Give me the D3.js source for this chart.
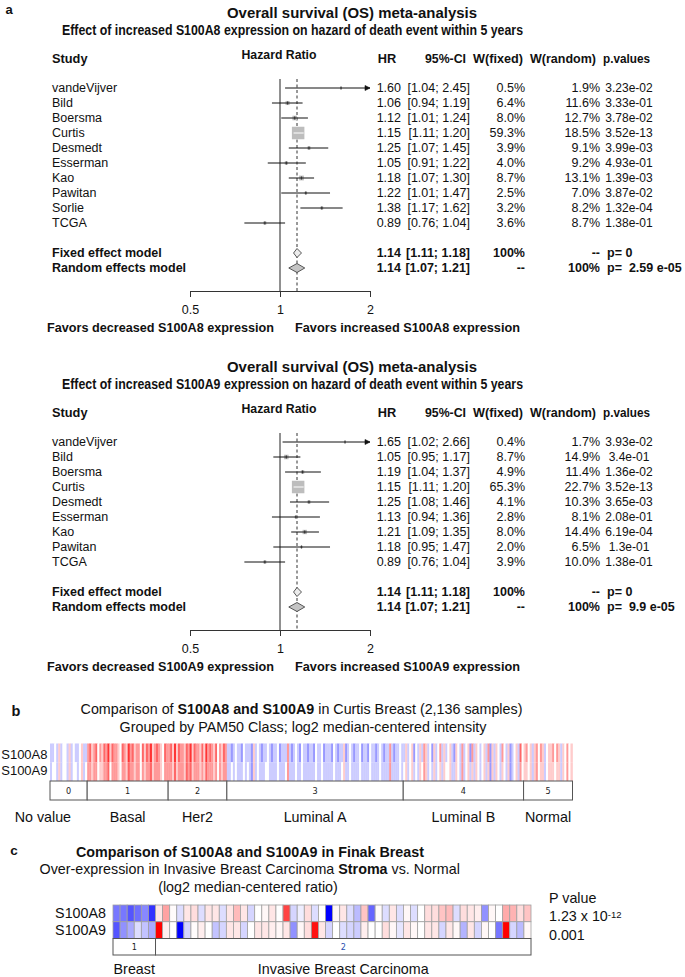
<!DOCTYPE html>
<html><head><meta charset="utf-8">
<script src="https://cdn.jsdelivr.net/npm/d3@7"></script>
<style>
body{margin:0;background:#fff;}
svg{display:block;font-family:"Liberation Sans",Arial,Helvetica,sans-serif;}
text{white-space:pre;}
</style></head><body>
<svg id="c" width="685" height="977"></svg>
<script>
// ---------------- DATA ----------------
// Panel a (top): S100A8
const studiesA8 = ["vandeVijver","Bild","Boersma","Curtis","Desmedt","Esserman","Kao","Pawitan","Sorlie","TCGA"];
const hrA8 = [1.60,1.06,1.12,1.15,1.25,1.05,1.18,1.22,1.38,0.89];
const loA8 = [1.04,0.94,1.01,1.11,1.07,0.91,1.07,1.01,1.17,0.76];
const hiA8 = [2.45,1.19,1.24,1.20,1.45,1.22,1.30,1.47,1.62,1.04];
const wFixedA8 = ["0.5%","6.4%","8.0%","59.3%","3.9%","4.0%","8.7%","2.5%","3.2%","3.6%"];
const wRandomA8 = ["1.9%","11.6%","12.7%","18.5%","9.1%","9.2%","13.1%","7.0%","8.2%","8.7%"];
const pA8 = ["3.23e-02","3.33e-01","3.78e-02","3.52e-13","3.99e-03","4.93e-01","1.39e-03","3.87e-02","1.32e-04","1.38e-01"];
const fixedA8 = [1.14,1.11,1.18];
const randomA8 = [1.14,1.07,1.21];
const summaryTextA8 = {fixed:["100%","--","p= 0"], random:["--","100%","p=  2.59 e-05"]};

// Panel a (bottom): S100A9
const studiesA9 = ["vandeVijver","Bild","Boersma","Curtis","Desmedt","Esserman","Kao","Pawitan","TCGA"];
const hrA9 = [1.65,1.05,1.19,1.15,1.25,1.13,1.21,1.18,0.89];
const loA9 = [1.02,0.95,1.04,1.11,1.08,0.94,1.09,0.95,0.76];
const hiA9 = [2.66,1.17,1.37,1.20,1.46,1.36,1.35,1.47,1.04];
const wFixedA9 = ["0.4%","8.7%","4.9%","65.3%","4.1%","2.8%","8.0%","2.0%","3.9%"];
const wRandomA9 = ["1.7%","14.9%","11.4%","22.7%","10.3%","8.1%","14.4%","6.5%","10.0%"];
const pA9 = ["3.93e-02","3.4e-01","1.36e-02","3.52e-13","3.65e-03","2.08e-01","6.19e-04","1.3e-01","1.38e-01"];
const fixedA9 = [1.14,1.11,1.18];
const randomA9 = [1.14,1.07,1.21];
const summaryTextA9 = {fixed:["100%","--","p= 0"], random:["--","100%","p=  9.9 e-05"]};

const hrTicks = [0.5,1,2];

// Panel b: Curtis, PAM50 groups (stripe levels 0..8, 4 = median)
const pamGroups = ["0","1","2","3","4","5"];
const pamNames = ["No value","Basal","Her2","Luminal A","Luminal B","Normal"];
const pamCounts = [152,331,240,721,492,200];
const curtisA8 = [
  "334353443534334533",
  "6756746576857665476586756647576856765476",
  "675857665768576657586765746576",
  "3323433243332534323343233423336323432433233243342333243233523432334233243323432336323343",
  "353452435365342534635345325436345263543453625354364352345374",
  "564535646534556465354645"
];
const curtisA9 = [
  "344353443534434534",
  "6656645566746665466576656646566756665466",
  "665756665767566656576665646566",
  "3343433343432534333443333433346333433433333343343333343334533433334333343333433336333343",
  "453453435465343534535445335436345353543453525354354352345364",
  "554535645534555455354645"
];

// Panel c: Finak (log2 median-centered ratio)
const finakGroups = ["1","2"];
const finakNames = ["Breast","Invasive Breast Carcinoma"];
const finakCounts = [6,53];
const finakA8 = [-1.6,-1.6,-2.0,-1.7,-1.4,-2.4,
  0.3,1.1,0.05,-0.4,0.3,0.4,-0.4,0.3,0.3,-0.4,0.3,0.8,0.3,-0.5,0,0.1,0.3,0,2.2,-0.5,-0.2,0.4,-0.4,0,-3,0.1,
  0.3,-0.4,-0.8,0.7,-1.8,0.05,-0.4,0.3,-0.4,0.1,-0.4,0,0.4,0.4,0.7,0.8,-0.4,0.4,0.3,0.2,-1.3,0.1,0,1.0,0.9,0.4,0.7];
const finakA9 = [-2.0,-1.3,-1.0,-0.4,-0.7,-1.0,
  3,0.2,0,-3,-0.5,0.05,0.2,0,-0.7,-0.5,0.3,0.3,-0.5,0,0.3,0.3,0.2,0.1,0.3,-1.3,0.1,0.4,2.8,0.3,-0.5,0,
  -0.4,-0.5,-0.6,0.2,0,0,0.4,0.1,-0.3,0.3,0.1,0,0.3,0.3,-0.5,0.3,0.1,-0.9,0.3,-0.5,0.1,0,-1.6,3,-0.5,-0.8,0.1];
const finakP = ["1.23 x 10", "-12", "0.001"];

// ---------------- DRAWING ----------------
const svg = d3.select('#c');
const FONT = '"Liberation Sans", Arial, Helvetica, sans-serif';

function txt(g, x, y, s, o = {}) {
  const t = g.append('text').attr('x', x).attr('y', y).attr('dy', '0.35em')
    .attr('font-size', o.size || 12.5).attr('font-weight', o.bold ? 'bold' : 'normal')
    .attr('text-anchor', o.anchor || 'start').attr('fill', o.fill || '#111');
  if (s !== null) t.text(s);
  if (o.width) t.attr('textLength', o.width).attr('lengthAdjust', 'spacingAndGlyphs');
  return t;
}

const f2 = d3.format('.2f');

function forest(d, y0) {
  const g = svg.append('g');
  const x = d3.scaleLog().base(2).domain([0.5, 2]).range([190, 370]);
  const n = d.studies.length;
  const ry = i => y0 + 15 * i;
  const yF = ry(n - 1) + 30, yR = yF + 15, yAx = yR + 23;

  txt(g, 352, y0 - 75, 'Overall survival (OS) meta-analysis', {bold: 1, size: 15, anchor: 'middle', width: 250});
  txt(g, 292.5, y0 - 58, `Effect of increased ${d.gene} expression on hazard of death event within 5 years`, {bold: 1, size: 15, anchor: 'middle', width: 461});

  const hy = y0 - 29;
  const hs = 12.8;
  txt(g, 52, hy, 'Study', {bold: 1, size: hs});
  txt(g, 279, hy - 4, 'Hazard Ratio', {bold: 1, size: hs, anchor: 'middle', width: 75});
  txt(g, 387, hy, 'HR', {bold: 1, size: hs, anchor: 'middle'});
  txt(g, 466, hy, '95%-CI', {bold: 1, size: hs, anchor: 'end', width: 41});
  txt(g, 523, hy, 'W(fixed)', {bold: 1, size: hs, anchor: 'end', width: 50});
  txt(g, 596, hy, 'W(random)', {bold: 1, size: hs, anchor: 'end', width: 66});
  txt(g, 603, hy, 'p.values', {bold: 1, size: hs, width: 47});

  // reference lines
  g.append('line').attr('x1', x(1)).attr('x2', x(1)).attr('y1', y0 - 9).attr('y2', yAx)
    .attr('stroke', '#222').attr('stroke-width', 1);
  g.append('line').attr('x1', x(d.fixed[0])).attr('x2', x(d.fixed[0])).attr('y1', y0 - 9).attr('y2', yAx)
    .attr('stroke', '#333').attr('stroke-width', 1).attr('stroke-dasharray', '3,2.5');

  const wmax = d3.max(d.wf, w => parseFloat(w));
  d.studies.forEach((s, i) => {
    const yy = ry(i);
    const cx = x(d.hr[i]);
    const side = 12.5 * Math.sqrt(parseFloat(d.wf[i]) / wmax);
    const x0 = x(Math.max(d.lo[i], 0.5)), x1 = x(Math.min(d.hi[i], 2));
    g.append('rect').attr('x', cx - side / 2).attr('y', yy - side / 2).attr('width', side).attr('height', side)
      .attr('fill', '#bdbdbd');
    const inside = x(d.lo[i]) >= cx - side / 2 && x(d.hi[i]) <= cx + side / 2;
    g.append('line').attr('x1', x0).attr('x2', x1).attr('y1', yy).attr('y2', yy)
      .attr('stroke', inside ? '#fff' : '#111').attr('stroke-width', 1);
    if (!inside) {
      g.append('line').attr('x1', cx).attr('x2', cx).attr('y1', yy - 1.5).attr('y2', yy + 1.5)
        .attr('stroke', '#333').attr('stroke-width', 1.2);
    }
    if (d.hi[i] > 2) {
      g.append('path').attr('d', `M${x1 - 5},${yy - 2.5}L${x1},${yy}L${x1 - 5},${yy + 2.5}Z`)
        .attr('fill', '#111').attr('stroke', '#111').attr('stroke-width', 0.6);
    }
    txt(g, 52, yy, s);
    txt(g, 401, yy, f2(d.hr[i]), {anchor: 'end'});
    txt(g, 470, yy, `[${f2(d.lo[i])}; ${f2(d.hi[i])}]`, {anchor: 'end'});
    txt(g, 525, yy, d.wf[i], {anchor: 'end'});
    txt(g, 600, yy, d.wr[i], {anchor: 'end'});
    txt(g, 629, yy, d.p[i], {anchor: 'middle', size: 12});
  });

  // summary diamonds
  [[yF, d.fixed, '#ececec', 'Fixed effect model', d.sumText.fixed],
   [yR, d.random, '#c4c4c4', 'Random effects model', d.sumText.random]].forEach(([yy, v, fill, label, st]) => {
    g.append('path').attr('d', `M${x(v[1])},${yy}L${x(v[0])},${yy - 4.5}L${x(v[2])},${yy}L${x(v[0])},${yy + 4.5}Z`)
      .attr('fill', fill).attr('stroke', '#444').attr('stroke-width', 0.9);
    txt(g, 52, yy, label, {bold: 1, size: 12.5});
    txt(g, 401, yy, f2(v[0]), {anchor: 'end', bold: 1});
    txt(g, 470, yy, `[${f2(v[1])}; ${f2(v[2])}]`, {anchor: 'end', bold: 1});
    txt(g, 525, yy, st[0], {anchor: 'end', bold: 1});
    txt(g, 600, yy, st[1], {anchor: 'end', bold: 1});
    txt(g, 607, yy, st[2], {bold: 1});
  });

  // axis
  const ax = g.append('g').attr('transform', `translate(0,${yAx})`)
    .call(d3.axisBottom(x).tickValues(hrTicks).tickFormat(v => String(v)).tickSize(6).tickPadding(8));
  ax.attr('font-family', FONT);
  ax.selectAll('text').attr('font-size', 12.5).attr('fill', '#111');
  ax.selectAll('line,path').attr('stroke', '#333');

  txt(g, 274, yAx + 37, `Favors decreased ${d.gene} expression`, {bold: 1, size: 12.8, anchor: 'end', width: 227});
  txt(g, 295, yAx + 37, `Favors increased ${d.gene} expression`, {bold: 1, size: 12.8, width: 225});
}

txt(svg, 9, 9, 'a', {bold: 1, size: 13, anchor: 'middle'});
forest({gene: 'S100A8', studies: studiesA8, hr: hrA8, lo: loA8, hi: hiA8, wf: wFixedA8, wr: wRandomA8, p: pA8,
  fixed: fixedA8, random: randomA8, sumText: summaryTextA8}, 88);
forest({gene: 'S100A9', studies: studiesA9, hr: hrA9, lo: loA9, hi: hiA9, wf: wFixedA9, wr: wRandomA9, p: pA9,
  fixed: fixedA9, random: randomA9, sumText: summaryTextA9}, 442);

// ---------- Panel b ----------
const cellColor = d3.scaleLinear().domain([-3, 0, 3]).range(['#0000ff', '#ffffff', '#ff0000']).clamp(true);
const level = ch => (+ch - 4) * 0.6;
{
  const g = svg.append('g');
  txt(g, 16, 711, 'b', {bold: 1, size: 14.5, anchor: 'middle'});
  const t1 = txt(g, 301.5, 708.5, null, {size: 14.3, anchor: 'middle'});
  t1.append('tspan').text('Comparison of ');
  t1.append('tspan').attr('font-weight', 'bold').text('S100A8 and S100A9');
  t1.append('tspan').text(' in Curtis Breast (2,136 samples)');
  txt(g, 303, 727, 'Grouped by PAM50 Class; log2 median-centered intensity', {size: 14.3, anchor: 'middle'});

  const total = d3.sum(pamCounts);
  const x = d3.scaleLinear().domain([0, total]).range([50, 572.5]);
  const y = d3.scaleBand().domain(['S100A8', 'S100A9']).range([743.5, 781]);
  const starts = d3.cumsum([0].concat(pamCounts)).slice(0, pamCounts.length);
  [['S100A8', curtisA8], ['S100A9', curtisA9]].forEach(([gene, rows]) => {
    rows.forEach((str, gi) => {
      const m = str.length, s0 = starts[gi], c = pamCounts[gi];
      for (let j = 0; j < m; j++) {
        const a = x(s0 + c * j / m), b = x(s0 + c * (j + 1) / m);
        g.append('rect').attr('x', a).attr('y', y(gene)).attr('width', b - a + 0.35).attr('height', y.bandwidth())
          .attr('fill', cellColor(level(str[j])));
      }
    });
    txt(g, 47.5, y(gene) + y.bandwidth() / 2 + (gene === 'S100A8' ? 2 : -1.5), gene, {size: 13, anchor: 'end'});
  });
  // group boxes
  pamGroups.forEach((gr, i) => {
    const a = x(starts[i]), b = x(starts[i] + pamCounts[i]);
    g.append('rect').attr('x', a).attr('y', 781).attr('width', b - a).attr('height', 19)
      .attr('fill', '#fff').attr('stroke', '#555').attr('stroke-width', 1);
    txt(g, (a + b) / 2, 790.5, gr, {size: 9, anchor: 'middle', fill: '#222'}).attr('font-family', '"DejaVu Sans", sans-serif').style('font-stretch', 'condensed');
    if (i === 0) txt(g, (a + b) / 2 + 2.5, 817, pamNames[i], {size: 14.3, anchor: 'end'});
    else txt(g, (a + b) / 2, 817, pamNames[i], {size: 14.3, anchor: 'middle'});
  });
}

// ---------- Panel c ----------
{
  const g = svg.append('g');
  txt(g, 14, 850, 'c', {bold: 1, size: 13.5, anchor: 'middle'});
  txt(g, 250, 852, 'Comparison of S100A8 and S100A9 in Finak Breast', {bold: 1, size: 14.3, anchor: 'middle'});
  const t2 = txt(g, 249.7, 868.5, null, {size: 14.3, anchor: 'middle'});
  t2.append('tspan').text('Over-expression in Invasive Breast Carcinoma ');
  t2.append('tspan').attr('font-weight', 'bold').text('Stroma');
  t2.append('tspan').text(' vs. Normal');
  txt(g, 248, 887, '(log2 median-centered ratio)', {size: 14.3, anchor: 'middle'});

  const total = d3.sum(finakCounts);
  const x = d3.scaleLinear().domain([0, total]).range([113, 531]);
  const y = d3.scaleBand().domain(['S100A8', 'S100A9']).range([905, 938.5]);
  [['S100A8', finakA8], ['S100A9', finakA9]].forEach(([gene, vals]) => {
    vals.forEach((v, i) => {
      g.append('rect').attr('x', x(i)).attr('y', y(gene)).attr('width', x(i + 1) - x(i)).attr('height', y.bandwidth())
        .attr('fill', cellColor(v)).attr('stroke', '#a0a0a0').attr('stroke-width', 0.8);
    });
    txt(g, 106, y(gene) + y.bandwidth() / 2, gene, {size: 14.3, anchor: 'end'});
  });
  const starts = d3.cumsum([0].concat(finakCounts)).slice(0, finakCounts.length);
  finakGroups.forEach((gr, i) => {
    const a = x(starts[i]), b = x(starts[i] + finakCounts[i]);
    g.append('rect').attr('x', a).attr('y', 938.5).attr('width', b - a).attr('height', 16.5)
      .attr('fill', '#fff').attr('stroke', '#555').attr('stroke-width', 1);
    txt(g, (a + b) / 2, 947, gr, {size: 9, anchor: 'middle', fill: i === 1 ? '#2a4fb0' : '#222'})
      .attr('font-family', '"DejaVu Sans", sans-serif').style('font-stretch', 'condensed');
    txt(g, (a + b) / 2, 968.5, finakNames[i], {size: 14.3, anchor: 'middle'});
  });
  txt(g, 549, 898, 'P value', {size: 14.3});
  const pv = txt(g, 549, 916, null, {size: 14.3});
  pv.append('tspan').text(finakP[0]);
  pv.append('tspan').attr('font-size', 9.5).attr('dy', '-0.3em').text(finakP[1]);
  txt(g, 549, 934.5, finakP[2], {size: 14.3});
}
</script>
</body></html>
